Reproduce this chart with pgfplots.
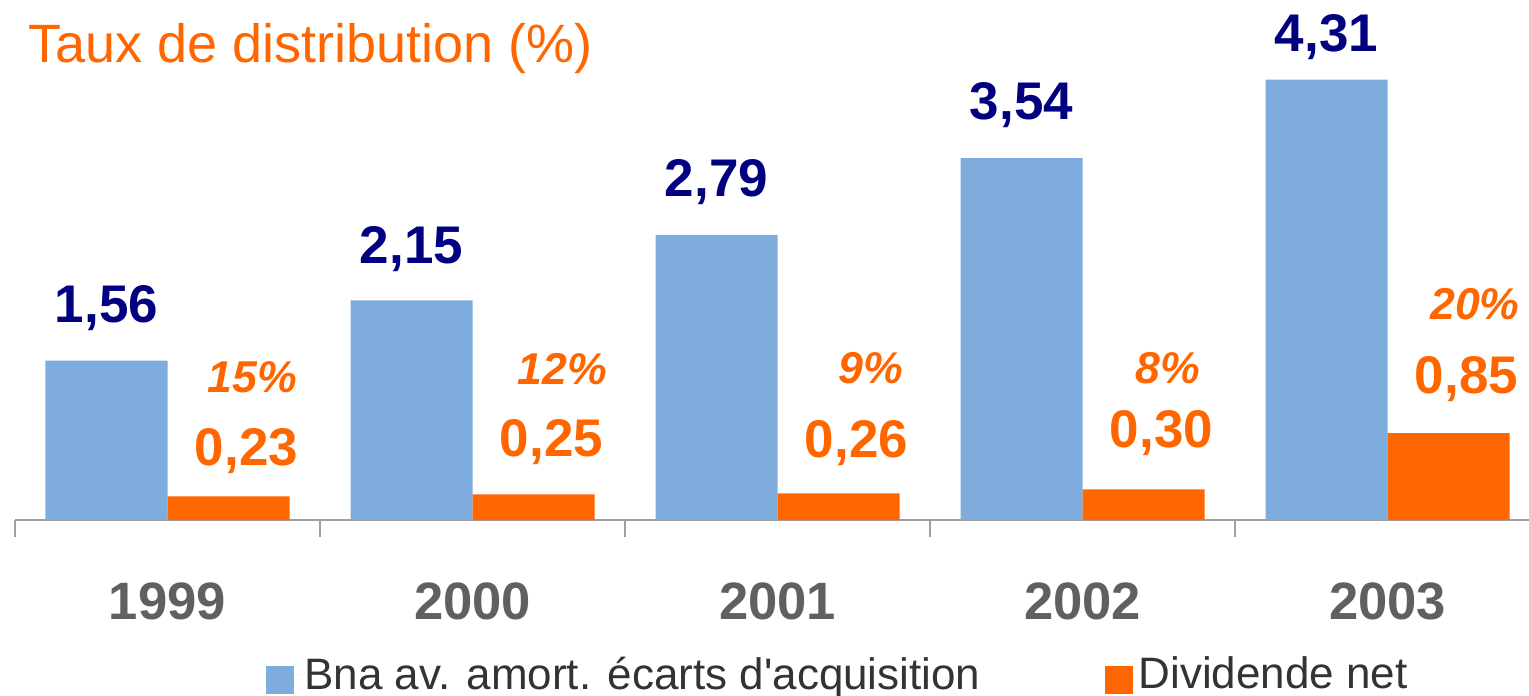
\documentclass[border=0pt]{standalone}
\usepackage{fontspec}
\setmainfont{Liberation Sans}
\usepackage{pgfplots}
\usepackage{pgfplotstable}
\pgfplotsset{compat=1.18}
\definecolor{barblue}{HTML}{7DACDD}
\definecolor{barorange}{HTML}{FF6600}
\definecolor{navyblue}{HTML}{000080}
\definecolor{ticklab}{HTML}{606060}
\definecolor{legtext}{HTML}{333333}
\definecolor{axgray}{HTML}{A0A0A0}

\pgfplotstableread{
x y dy lab
0 1.56 19 1,56
1 2.15 18.5 2,15
2 2.79 19 2,79
3 3.54 19.5 3,54
4 4.31 14 4,31
}\bnatable
\pgfplotstableread{
x y dy lab
0 0.23 15.5 0,23
1 0.25 19 0,25
2 0.26 18 0,26
3 0.30 21 0,30
4 0.85 20 0,85
}\divtable

\begin{document}
\begin{tikzpicture}
\useasboundingbox (-7.5pt,-87.5pt) rectangle (757pt,260pt);
\begin{axis}[
  scale only axis, width=757pt, height=260pt,
  at={(0,0)}, anchor=south west,
  xmin=-0.5, xmax=4.4639, ymin=0, ymax=5.088,
  clip=false,
  axis y line=none, axis x line=bottom,
  x axis line style={-, draw=axgray, line width=0.8pt},
  xtick={0,1,2,3,4}, xticklabels={1999,2000,2001,2002,2003},
  major x tick style={draw=none},
  minor xtick={-0.5,0.5,1.5,2.5,3.5},
  minor x tick style={draw=axgray, line width=0.8pt},
  tick align=outside, minor tick length=8.5pt, major tick length=0pt,
  xticklabel style={font=\fontsize{26.3}{30}\selectfont\bfseries, text=ticklab, anchor=base, yshift=-49.5pt},
  legend style={at={(axis description cs:0.1658,-0.2972)}, anchor=west, draw=none, fill=none,
    font=\fontsize{22}{24}\selectfont, text=legtext, inner sep=0pt,
    /tikz/every even column/.append style={column sep=60.5pt}},
  legend columns=2,
]
\addplot[ybar, bar width=61pt, bar shift=-30.5pt, fill=barblue, draw=none,
  legend image code/.code={\fill[barblue] (0pt,-9.5pt) rectangle (14pt,4.5pt); \path (0pt,0pt) -- (17pt,0pt);},
  point meta=explicit symbolic, nodes near coords,
  visualization depends on={\thisrow{dy} \as \dy},
  every node near coord/.append style={anchor=base, xshift=-30.5pt, yshift=\dy pt, inner sep=0pt,
    font=\fontsize{26.5}{30}\selectfont\bfseries, text=navyblue}]
  table[x=x, y=y, meta=lab]{\bnatable};
\addlegendentry{Bna av. amort. écarts d\textquotesingle acquisition}
\addplot[ybar, bar width=61pt, bar shift=30.5pt, fill=barorange, draw=none,
  legend image code/.code={\fill[barorange] (0pt,-9.5pt) rectangle (14pt,4.5pt); \path (0pt,0pt) -- (14.5pt,0pt);},
  point meta=explicit symbolic, nodes near coords,
  visualization depends on={\thisrow{dy} \as \dy},
  every node near coord/.append style={anchor=base, xshift=39.5pt, yshift=\dy pt, inner sep=0pt,
    font=\fontsize{26.5}{30}\selectfont\bfseries, text=barorange}]
  table[x=x, y=y, meta=lab]{\divtable};
\addlegendentry{Dividende net}

\begin{scope}[every node/.style={anchor=base east, inner sep=0pt,
   font=\fontsize{22.3}{26}\selectfont\bfseries\itshape, text=barorange}]
\node at (axis cs:0.426,1.243) {15\%};
\node at (axis cs:1.443,1.321) {12\%};
\node at (axis cs:2.413,1.340) {9\%};
\node at (axis cs:3.387,1.340) {8\%};
\node at (axis cs:4.434,1.957) {20\%};
\end{scope}
\node[anchor=base west, inner sep=0pt, font=\fontsize{27}{30}\selectfont, text=barorange]
  at (axis description cs:0.0086,0.879) {Taux de distribution (\%)};
\end{axis}
\end{tikzpicture}
\end{document}
